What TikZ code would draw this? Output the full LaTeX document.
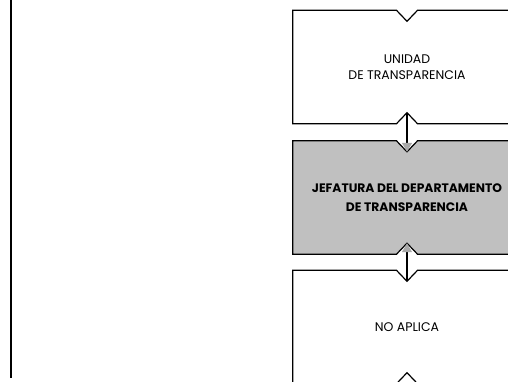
\documentclass[tikz,border=0pt]{standalone}
\usepackage{fontspec}
\setmainfont{Poppins}
\usetikzlibrary{arrows.meta,backgrounds}

\definecolor{boxgray}{HTML}{C0C0C0}
\definecolor{tipgray}{HTML}{A8A8A8}

\tikzset{
  unitbox/.style={minimum width=228pt, minimum height=113pt, inner sep=0pt,
    align=center, font=\fontsize{12.5}{16.5}\selectfont},
  headbox/.style={unitbox, font=\fontsize{12.3}{19}\selectfont\bfseries},
  boxline/.style={line width=1.2pt, line join=miter},
  flow/.style={line width=1.1pt, -{Triangle[width=10pt,length=9pt,tipgray]}}
}

\begin{document}
\begin{tikzpicture}[x=1pt, y=-1pt]
            % Frame of the page
            \useasboundingbox (0,0) rectangle (508,381);
            \clip (0,0) rectangle (508,381);
            \draw[line width=1.5pt] (11,0) -- (11,378);

            % Units
            \node[unitbox] (unidad) at (407,67) {UNIDAD\\DE TRANSPARENCIA};
            \node[headbox] (jefatura) at (407,197.5) {JEFATURA DEL DEPARTAMENTO\\DE TRANSPARENCIA};
            \node[unitbox] (noaplica) at (407,327) {NO APLICA};

            % Outlines with notches
            \begin{scope}[on background layer]
            \foreach \b/\c in {unidad/white, jefatura/boxgray, noaplica/white} {
                \filldraw[boxline, fill=\c] (\b.north west) -- ([xshift=-10.5pt]\b.north)
                    -- ([yshift=-11pt]\b.north) coordinate (\b-top)
                    -- ([xshift=10.5pt]\b.north) -- (\b.north east) -- (\b.south east)
                    -- ([xshift=10.5pt]\b.south) -- ([yshift=11pt]\b.south) coordinate (\b-bot)
                    -- ([xshift=-10.5pt]\b.south) -- (\b.south west) -- cycle;
            }
            \end{scope}

            % Connectors
            \draw[flow] (unidad-bot) -- (jefatura-top);
            \draw[flow] (noaplica-top) -- (jefatura-bot);
\end{tikzpicture}
\end{document}
